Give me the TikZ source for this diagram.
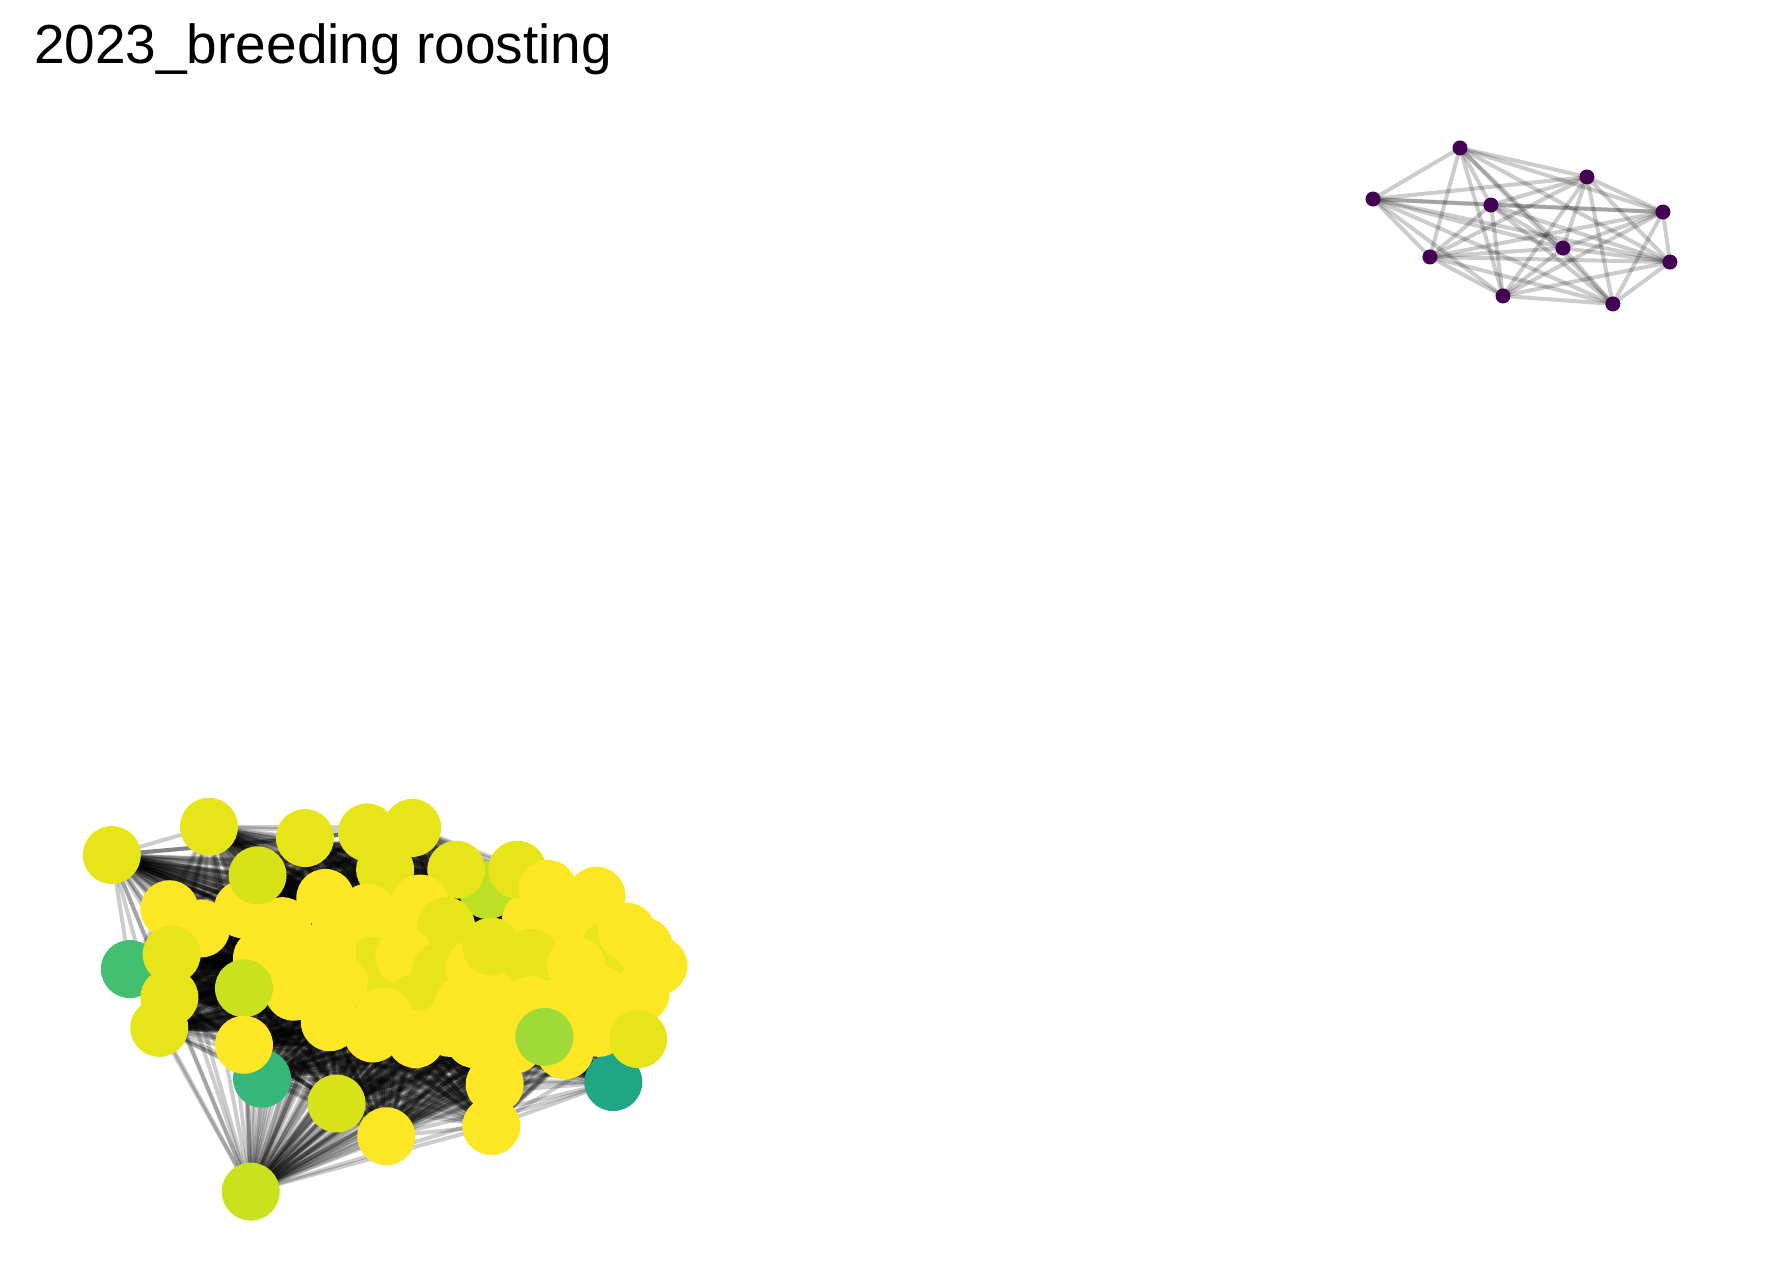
\documentclass[tikz,border=0pt]{standalone}
\usepackage{fontspec}
\setmainfont{Liberation Sans}
\pgfdeclarelayer{background}
\pgfsetlayers{background,main}
\definecolor{Y0}{HTML}{FDE725}
\definecolor{Y1}{HTML}{E7E419}
\definecolor{Y2}{HTML}{D8E219}
\definecolor{Y3}{HTML}{CAE11F}
\definecolor{G1}{HTML}{BDDF26}
\definecolor{G2}{HTML}{A0DA39}
\definecolor{G3}{HTML}{43BF71}
\definecolor{G4}{HTML}{35B779}
\definecolor{TT}{HTML}{21A685}
\definecolor{PU}{HTML}{440154}
\begin{document}
\begin{tikzpicture}[x=1.1295pt,y=-1.1295pt,
  big/.style={circle,inner sep=0pt,minimum size=58pt,draw=none},
  small/.style={circle,inner sep=0pt,minimum size=15pt,fill=PU,draw=none},
  edge/.style={draw=black,opacity=0.2,line width=4pt}]
\useasboundingbox (0,0) rectangle (1568,1132);
\node[anchor=base west,inner sep=0pt,font=\fontsize{55}{66}\selectfont] (title) at (30,56) {2023\_breeding roosting};
% big cluster (draw order matters)
\foreach \n/\x/\y/\c in {
 9/432/788/G1, 24/115/858/G3, 30/232/955/G4, 48/543/958/TT,
 63/350/830/Y0, 64/470/815/Y0, 65/540/860/Y0, 66/450/870/Y1, 67/310/830/Y0,
 68/505/820/Y0, 69/380/870/Y0, 70/325/880/Y1, 71/395/845/Y0, 72/550/890/Y0,
 73/480/860/Y0, 74/420/920/Y0, 75/455/925/Y0, 76/500/930/Y0, 77/290/870/Y0,
 78/360/870/Y0, 79/430/880/Y0, 80/540/840/Y1, 81/330/915/Y0,
 1/99/757/Y1, 2/185/732/Y1, 3/270/742/Y1, 4/325/737/Y1, 5/365/733/Y1,
 7/341/770/Y1, 8/404/770/Y1, 10/458/770/Y1, 11/485/787/Y0,
 12/528/793/Y0, 13/150/805/Y0, 14/178/822/Y0, 15/215/805/Y0, 16/250/820/Y0,
 17/288/795/Y0, 18/325/808/Y0, 19/372/800/Y0, 20/395/820/Y1, 21/555/825/Y0,
 22/570/838/Y0, 23/583/855/Y0, 25/152/845/Y1, 26/150/883/Y1, 27/141/910/Y1,
 31/232/848/Y0, 32/260/878/Y0, 33/292/905/Y0,
 36/330/855/Y1, 37/358/847/Y0, 38/368/888/Y1,
 39/368/920/Y0, 40/390/860/Y1, 41/420/857/Y0, 42/435/838/Y1, 43/470/848/Y1,
 44/398/910/Y0,
 50/567/880/Y0, 51/510/855/Y0, 52/530/880/Y0, 53/470/890/Y0, 54/290/840/Y0,
 55/260/845/Y0, 57/300/870/Y0, 58/340/900/Y0, 59/440/900/Y0,
 60/500/900/Y0, 61/530/910/Y0, 62/410/890/Y0,
 6/228/775/Y2, 28/216/875/Y3, 29/216/925/Y0, 34/298/977/Y2, 35/342/1006/Y0,
 45/438/960/Y0, 46/435/997/Y0, 47/482/918/G2, 49/565/920/Y1, 56/222/1055/Y3}
 {\node[big,fill=\c] (b\n) at (\x,\y) {};}
% small cluster
\foreach \n/\x/\y in {1/1292.6/131, 2/1405/156.7, 3/1215.6/176.2, 4/1320/181.5,
 5/1472.3/187.7, 6/1383.8/219.6, 7/1266/227.5, 8/1478.5/232, 9/1330.7/262, 10/1428/269.1}
 {\node[small] (s\n) at (\x,\y) {};}
\begin{pgfonlayer}{background}
\foreach \i [evaluate=\i as \k using int(\i+1)] in {1,...,80}
  {\foreach \j in {\k,...,81} {\draw[edge] (b\i.center) -- (b\j.center);}}
\foreach \i [evaluate=\i as \k using int(\i+1)] in {1,...,9}
  {\foreach \j in {\k,...,10} {\draw[edge] (s\i.center) -- (s\j.center);}}
\end{pgfonlayer}
\end{tikzpicture}
\end{document}
